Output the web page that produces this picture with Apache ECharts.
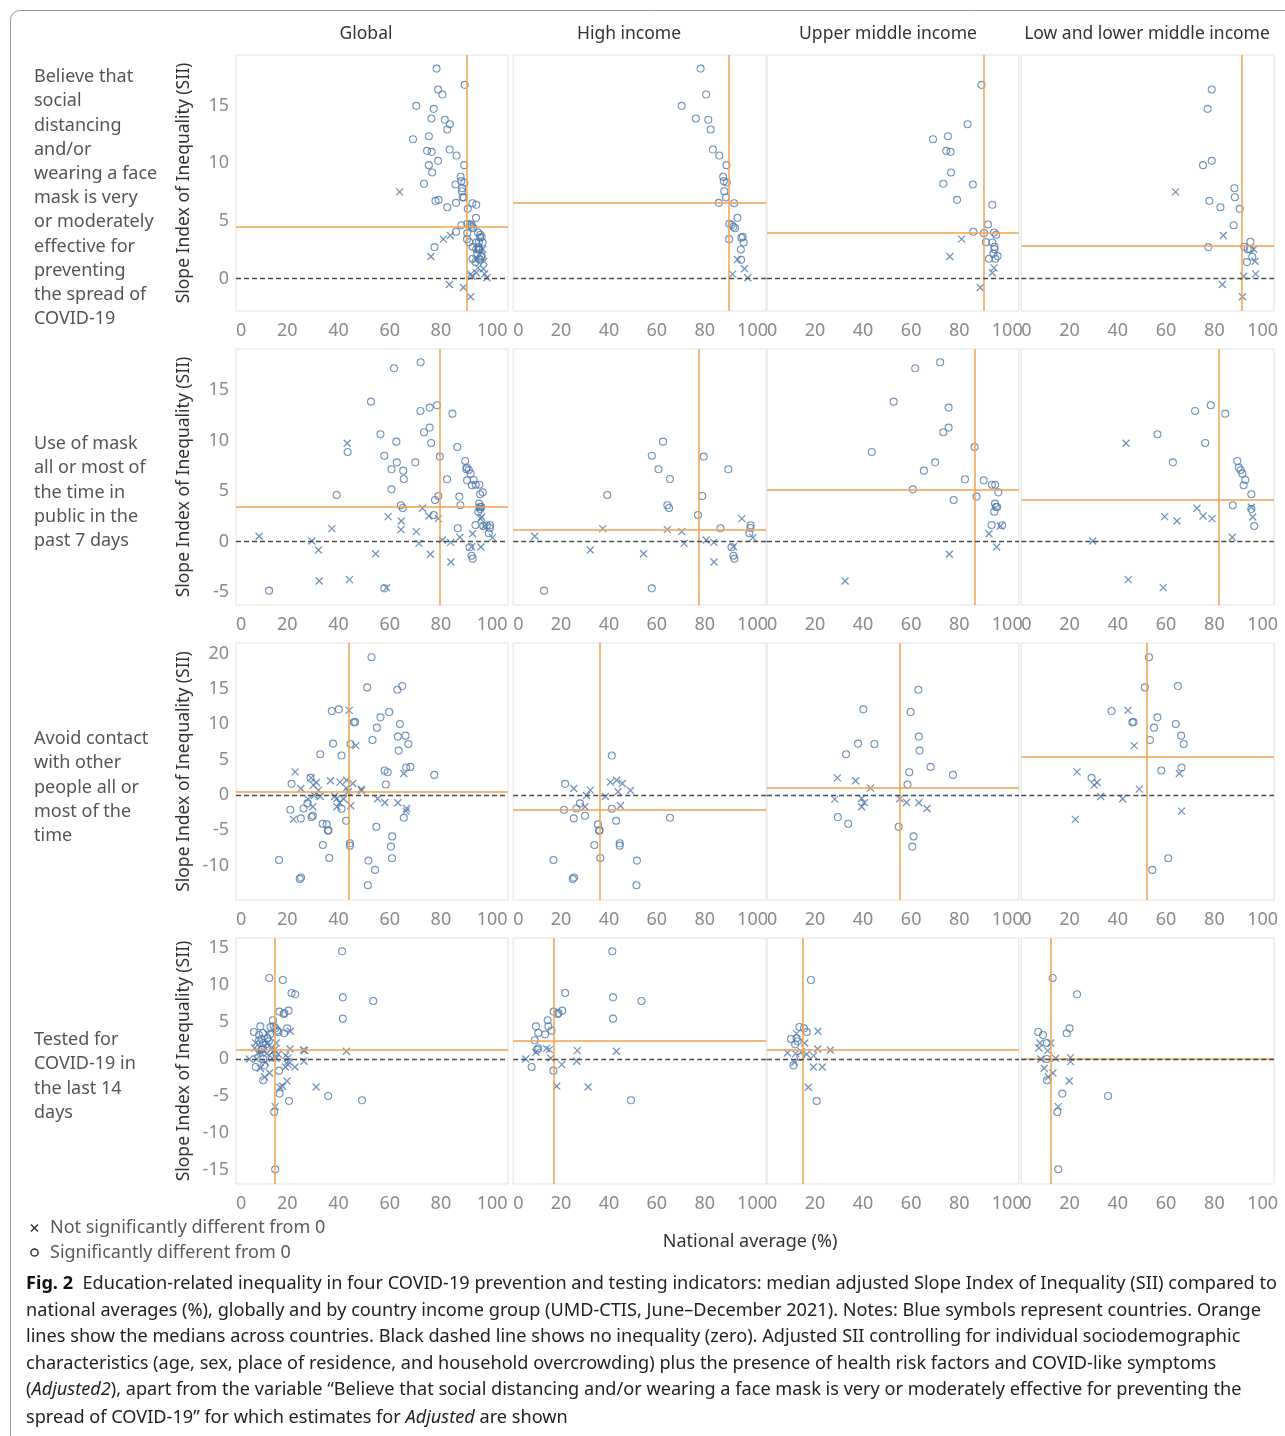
<!DOCTYPE html>
<html><head><meta charset="utf-8">
<script src="https://cdn.jsdelivr.net/npm/echarts@6/dist/echarts.min.js"></script>
<style>html,body{margin:0;padding:0;background:#fff}#c{width:1285px;height:1436px}</style>
</head><body><div id="c"></div>
<script>
// ---------- labels ----------
const columnTitles = ['Global', 'High income', 'Upper middle income', 'Low and lower middle income'];
const rowTitles = [
  'Believe that\nsocial\ndistancing\nand/or\nwearing a face\nmask is very\nor moderately\neffective for\npreventing\nthe spread of\nCOVID-19',
  'Use of mask\nall or most of\nthe time in\npublic in the\npast 7 days',
  'Avoid contact\nwith other\npeople all or\nmost of the\ntime',
  'Tested for\nCOVID-19 in\nthe last 14\ndays'
];
const xTickValues = [0, 20, 40, 60, 80, 100];
const yTickValues = [[0,5,10,15],[-5,0,5,10,15],[-10,-5,0,5,10,15,20],[-15,-10,-5,0,5,10,15]];

// ---------- data: [national average %, SII] ----------
// Row 1: believe distancing / mask effective
const r1HighSig = [[78.3,18.2],[80.6,15.95],[70.4,14.97],[76.3,13.87],[81.5,13.76],[82.5,12.92],[83.4,11.18],[86.1,10.66],[89.1,9.83],[87.7,8.82],[88.0,8.44],[89.2,8.32],[88.2,7.57],[88.9,7.02],[85.9,6.56],[92.3,6.53],[93.7,5.26],[90.3,4.74],[91.3,4.65],[92.0,4.48],[92.7,4.36],[90.2,3.41],[95.9,3.61],[95.3,3.53],[96.3,3.12],[95.1,2.51],[95.2,1.62]];
const r1HighNs = [[93.7,1.65],[91.7,0.38],[96.6,0.84],[98.0,0.06]];
const r1UpperSig = [[89.3,16.79],[83.5,13.38],[69.1,12.08],[75.3,12.34],[74.6,11.07],[76.4,10.98],[76.6,9.19],[73.4,8.21],[85.7,8.15],[79.1,6.82],[93.8,6.39],[92.0,4.68],[85.9,4.05],[90.3,3.93],[94.5,3.99],[95.4,3.79],[91.1,3.15],[93.8,3.12],[94.7,2.75],[94.7,2.54],[94.2,2.14],[96.0,1.94],[92.4,1.71],[95.1,1.71]];
const r1UpperNs = [[81.0,3.41],[76.1,1.91],[94.5,0.92],[93.8,0.49],[88.8,-0.78]];
const r1LowSig = [[78.9,16.39],[77.2,14.71],[75.3,9.83],[78.9,10.2],[88.3,7.83],[88.5,7.05],[77.9,6.73],[82.5,6.18],[90.5,6.04],[88.0,4.62],[77.5,2.72],[94.9,3.18],[92.4,2.75],[93.8,2.54],[94.8,2.54],[95.7,1.88],[93.5,1.42]];
const r1LowNs = [[63.9,7.51],[83.7,3.73],[96.3,2.54],[96.8,1.50],[92.1,0.20],[97.1,0.40],[83.3,-0.52],[91.6,-1.59]];
// Row 2: mask use
const r2HighSig = [[62.6,9.90],[57.9,8.51],[79.6,8.42],[60.7,7.16],[89.9,7.16],[65.5,6.20],[39.3,4.62],[79.0,4.52],[64.4,3.60],[65.1,3.33],[77.2,2.64],[86.6,1.32],[99.2,1.62],[99.1,1.35],[98.7,0.83],[91.2,-0.56],[92.0,-1.39],[92.4,-1.68],[12.9,-4.85],[57.9,-4.62]];
const r2HighNs = [[9.0,0.53],[37.4,1.29],[32.2,-0.83],[54.5,-1.19],[64.4,1.19],[70.4,0.99],[71.4,-0.17],[80.6,0.17],[83.8,-0.07],[83.9,-2.01],[92.0,-0.50],[95.5,2.28],[100.1,0.40]];
const r2UpperSig = [[72.1,17.76],[61.7,17.16],[52.7,13.86],[75.6,13.27],[75.6,11.29],[73.4,10.83],[43.6,8.88],[86.4,9.37],[70.0,7.85],[65.3,7.03],[82.4,6.17],[90.2,6.07],[93.6,5.64],[95.0,5.64],[96.3,4.88],[60.7,5.18],[77.7,4.13],[87.2,4.46],[94.9,3.76],[95.3,3.43],[95.8,3.43],[94.6,2.97],[93.5,1.65],[97.9,1.62]];
const r2UpperNs = [[97.1,1.55],[92.4,0.79],[95.6,-0.53],[75.9,-1.25],[32.5,-3.89]];
const r2LowSig = [[78.5,13.50],[72.0,12.94],[84.5,12.67],[56.4,10.63],[76.2,9.77],[62.8,7.85],[89.5,7.99],[90.1,7.33],[90.9,7.10],[91.6,6.73],[92.8,6.11],[92.1,5.58],[95.3,4.69],[87.6,3.60],[95.3,3.23],[96.5,1.55]];
const r2LowNs = [[43.4,9.74],[72.8,3.30],[75.3,2.54],[79.0,2.28],[59.4,2.48],[64.5,2.05],[95.3,3.40],[95.9,2.44],[87.4,0.43],[29.6,0.07],[44.3,-3.76],[58.8,-4.55]];
// Row 3: avoid contact
const r3HighSig = [[41.2,5.56],[21.7,1.55],[27.9,-1.22],[21.2,-2.12],[26.4,-1.93],[25.3,-3.34],[30.0,-2.97],[41.2,-1.98],[43.0,-3.67],[35.4,-4.19],[35.9,-5.08],[36.1,-5.02],[33.9,-7.11],[44.5,-6.87],[44.5,-7.20],[36.4,-8.95],[16.8,-9.23],[51.7,-9.32],[24.9,-11.91],[25.4,-11.72],[51.5,-12.81],[65.5,-3.25]];
const r3HighNs = [[25.3,0.89],[32.2,0.66],[30.6,-0.09],[38.5,-0.24],[40.6,1.79],[43.2,2.07],[45.6,1.60],[43.8,0.42],[49.0,0.61],[30.0,-1.69],[44.8,-1.55]];
const r3UpperSig = [[63.0,14.88],[40.1,12.10],[59.8,11.72],[63.2,8.24],[37.9,7.25],[44.7,7.20],[63.5,6.26],[32.9,5.74],[68.1,3.95],[59.2,3.20],[77.4,2.82],[58.5,1.46],[29.5,-3.15],[33.8,-4.10],[54.8,-4.52],[61.0,-5.89],[60.5,-7.34]];
const r3UpperNs = [[29.3,2.40],[36.9,1.98],[43.1,0.94],[28.2,-0.61],[39.4,-0.52],[40.5,-1.13],[39.4,-1.69],[55.3,-0.56],[58.1,-1.08],[63.2,-1.13],[66.6,-1.93]];
const r3LowSig = [[52.9,19.49],[51.2,15.21],[64.9,15.40],[37.4,11.86],[46.0,10.26],[46.5,10.31],[56.4,10.97],[64.0,10.03],[55.0,9.51],[66.2,8.38],[53.3,7.77],[67.3,7.20],[58.0,3.44],[66.4,3.86],[29.1,2.40],[60.9,-8.99],[54.3,-10.64]];
const r3LowNs = [[44.2,11.96],[46.8,6.97],[23.1,3.25],[31.4,1.74],[30.2,1.37],[32.9,-0.24],[42.0,-0.56],[48.9,0.80],[65.5,3.01],[66.4,-2.31],[22.4,-3.48]];
// Row 4: tested
const r4HighSig = [[41.4,14.55],[21.7,8.92],[41.7,8.33],[53.6,7.84],[16.9,6.40],[18.6,6.08],[18.9,6.22],[20.5,6.53],[14.4,5.23],[41.7,5.45],[9.5,4.41],[14.7,4.41],[16.0,3.83],[10.5,3.51],[13.3,3.33],[9.0,2.52],[10.5,1.44],[10.0,1.26],[7.7,-1.08],[16.8,-1.58],[49.2,-5.59]];
const r4HighNs = [[5.2,0.0],[9.5,0.90],[13.9,1.40],[15.1,1.26],[15.7,0.09],[20.3,-0.77],[26.8,1.13],[26.5,-0.32],[43.1,1.04],[18.2,-3.69],[31.3,-3.78]];
const r4UpperSig = [[18.3,10.68],[13.5,4.32],[15.4,4.14],[16.6,3.65],[10.0,2.70],[12.3,2.79],[11.7,1.98],[12.8,2.39],[11.0,-0.86],[13.9,0.27],[20.7,-5.68]];
const r4UpperNs = [[12.3,3.42],[15.7,2.16],[21.2,3.74],[21.1,1.35],[26.4,1.22],[8.5,0.81],[11.9,0.72],[16.5,0.63],[19.4,0.45],[11.5,-0.45],[19.3,-1.08],[23.0,-1.08],[17.2,-3.83],[14.3,0.99]];
const r4LowSig = [[13.0,10.95],[23.1,8.74],[20.0,4.14],[18.8,3.47],[7.0,3.65],[9.0,3.24],[10.6,2.16],[10.6,0.0],[10.6,-2.88],[17.0,-4.68],[36.0,-5.00],[14.9,-7.16],[15.3,-14.91]];
const r4LowNs = [[7.7,2.16],[12.2,2.16],[7.3,1.49],[10.9,1.13],[8.1,0.0],[14.2,0.09],[20.4,0.18],[20.4,-0.36],[9.5,-1.26],[13.1,-1.89],[11.2,-2.43],[19.9,-2.97],[15.3,-6.44]];

// medians across countries (orange lines): per row, columns Global, High, Upper middle, Low+lower middle
const medianX = [[90.0,90.2,90.4,91.2],[79.7,77.5,86.5,81.8],[44.1,36.3,55.2,52.1],[15.2,16.8,14.7,12.3]];
const medianY = [[4.47,6.56,3.93,2.83],[3.44,1.19,5.18,4.16],[0.45,-2.12,0.99,5.41],[1.2,2.52,1.22,0.0]];

// ---------- assemble panels (Global = union of income groups) ----------
const groups = [
  [[r1HighSig,r1HighNs],[r1UpperSig,r1UpperNs],[r1LowSig,r1LowNs]],
  [[r2HighSig,r2HighNs],[r2UpperSig,r2UpperNs],[r2LowSig,r2LowNs]],
  [[r3HighSig,r3HighNs],[r3UpperSig,r3UpperNs],[r3LowSig,r3LowNs]],
  [[r4HighSig,r4HighNs],[r4UpperSig,r4UpperNs],[r4LowSig,r4LowNs]]
];

// ---------- layout ----------
const FONT = '"Noto Sans", "Open Sans", sans-serif';
const colLeft = [236, 513.2, 767, 1021.3];
const colWidth = [272, 253, 252, 252.7];
const xMax = [106.2, 105.7, 104.9, 104.7];
const rowTop = [55, 349, 643, 938];
const rowHeight = [256, 256, 257, 246];
const yMin = [-2.82, -6.27, -14.9, -16.9];
const yMax = [19.38, 19.07, 21.5, 16.35];
const BLUE = '#4f78aa';
const ORANGE = '#f4a24c';

const grids = [], xAxes = [], yAxes = [], series = [];
for (let r = 0; r < 4; r++) {
  for (let c = 0; c < 4; c++) {
    const idx = r * 4 + c;
    grids.push({left: colLeft[c], top: rowTop[r], width: colWidth[c], height: rowHeight[r],
      show: true, borderColor: '#e2e2e2', borderWidth: 1, backgroundColor: 'transparent'});
    xAxes.push({type: 'value', gridIndex: idx, min: 0, max: xMax[c], interval: 20,
      axisLine: {show: false}, axisTick: {show: false}, splitLine: {show: false},
      axisLabel: {fontSize: 18, color: '#8a8a8a', fontFamily: FONT, margin: 11,
        showMaxLabel: false, alignMinLabel: 'left'}});
    yAxes.push({type: 'value', gridIndex: idx, min: yMin[r], max: yMax[r],
      axisLine: {show: false}, axisTick: {show: false}, splitLine: {show: false},
      axisLabel: {show: c === 0, customValues: yTickValues[r], fontSize: 18, color: '#8a8a8a',
        fontFamily: FONT, margin: 7}});
    let sig, ns;
    if (c === 0) {
      sig = [].concat(groups[r][0][0], groups[r][1][0], groups[r][2][0]);
      ns = [].concat(groups[r][0][1], groups[r][1][1], groups[r][2][1]);
    } else {
      sig = groups[r][c - 1][0];
      ns = groups[r][c - 1][1];
    }
    series.push({type: 'line', xAxisIndex: idx, yAxisIndex: idx, data: [], silent: true, z: 1,
      markLine: {silent: true, symbol: ['none', 'none'], label: {show: false}, animation: false,
        data: [
          {xAxis: medianX[r][c], lineStyle: {color: ORANGE, width: 1.5, type: 'solid'}},
          {yAxis: medianY[r][c], lineStyle: {color: ORANGE, width: 1.5, type: 'solid'}},
          {yAxis: 0, lineStyle: {color: '#4a4a4a', width: 1.3, type: [5, 3]}}
        ]}});
    series.push({type: 'scatter', name: 'Significantly different from 0', xAxisIndex: idx, yAxisIndex: idx, z: 3,
      data: sig, symbol: 'circle', symbolSize: 7, silent: true,
      itemStyle: {color: 'rgba(0,0,0,0)', borderColor: BLUE, borderWidth: 1.1}});
    series.push({type: 'scatter', name: 'Not significantly different from 0', xAxisIndex: idx, yAxisIndex: idx, z: 3,
      data: ns, symbol: 'path://M0,0L10,10M10,0L0,10', symbolSize: 7, silent: true,
      itemStyle: {color: 'none', borderColor: BLUE, borderWidth: 1.3}});
  }
}

// ---------- text graphics ----------
const graphics = [];
graphics.push({type: 'rect', shape: {x: 10.5, y: 10.5, width: 1300, height: 1460, r: 9},
  style: {fill: 'none', stroke: '#9a9a9a', lineWidth: 1}, silent: true});
const headerX = [366, 629, 888, 1147];
columnTitles.forEach((t, i) => graphics.push({type: 'text', x: headerX[i], y: 34,
  style: {text: t, font: '17.5px ' + FONT, fill: '#333', textAlign: 'center', textVerticalAlign: 'middle'}}));
const rowLabelTop = [77, 444, 739, 1040];
rowTitles.forEach((t, i) => graphics.push({type: 'text', x: 34, y: rowLabelTop[i] - 12.1,
  style: {text: t, font: '18px ' + FONT, fill: '#555', lineHeight: 24.2, textAlign: 'left', textVerticalAlign: 'top'}}));
for (let r = 0; r < 4; r++) {
  graphics.push({type: 'text', x: 184, y: rowTop[r] + rowHeight[r] / 2, rotation: Math.PI / 2,
    style: {text: 'Slope Index of Inequality (SII)', font: '17.5px ' + FONT, fill: '#333',
      textAlign: 'center', textVerticalAlign: 'middle'}});
}
graphics.push({type: 'text', x: 750, y: 1242,
  style: {text: 'National average (%)', font: '18px ' + FONT, fill: '#333', textAlign: 'center', textVerticalAlign: 'middle'}});
// legend
graphics.push({type: 'line', shape: {x1: 31, y1: 1224.5, x2: 38, y2: 1231.5},
  style: {stroke: '#333', lineWidth: 1.5}});
graphics.push({type: 'line', shape: {x1: 38, y1: 1224.5, x2: 31, y2: 1231.5},
  style: {stroke: '#333', lineWidth: 1.5}});
graphics.push({type: 'circle', shape: {cx: 34.5, cy: 1252.5, r: 3.6},
  style: {fill: 'none', stroke: '#333', lineWidth: 1.5}});
graphics.push({type: 'text', x: 50, y: 1228,
  style: {text: 'Not significantly different from 0', font: '18px ' + FONT, fill: '#5a5a5a', textVerticalAlign: 'middle'}});
graphics.push({type: 'text', x: 50, y: 1253,
  style: {text: 'Significantly different from 0', font: '18px ' + FONT, fill: '#5a5a5a', textVerticalAlign: 'middle'}});
// caption
const capLines = [
  '{b|Fig. 2}  Education-related inequality in four COVID-19 prevention and testing indicators: median adjusted Slope Index of Inequality (SII) compared to',
  'national averages (%), globally and by country income group (UMD-CTIS, June–December 2021). Notes: Blue symbols represent countries. Orange',
  'lines show the medians across countries. Black dashed line shows no inequality (zero). Adjusted SII controlling for individual sociodemographic',
  'characteristics (age, sex, place of residence, and household overcrowding) plus the presence of health risk factors and COVID-like symptoms',
  '({i|Adjusted2}), apart from the variable “Believe that social distancing and/or wearing a face mask is very or moderately effective for preventing the',
  'spread of COVID-19” for which estimates for {i|Adjusted} are shown'
];
const capY = [1284, 1311, 1337, 1364, 1390, 1418];
const CAPSIZE = 18.15;
capLines.forEach((t, i) => graphics.push({type: 'text', x: 26, y: capY[i],
  style: {text: t, fontSize: CAPSIZE, fontFamily: FONT, fill: '#222', textVerticalAlign: 'middle',
    rich: {b: {fontSize: CAPSIZE, fontFamily: FONT, fontWeight: 'bold', fill: '#111'},
           i: {fontSize: CAPSIZE, fontFamily: FONT, fontStyle: 'italic', fill: '#222'}}}}));

const chart = echarts.init(document.getElementById('c'), null, {renderer: 'canvas'});
chart.setOption({
  animation: false,
  backgroundColor: '#fff',
  grid: grids, xAxis: xAxes, yAxis: yAxes, series: series,
  graphic: graphics
});
</script></body></html>
